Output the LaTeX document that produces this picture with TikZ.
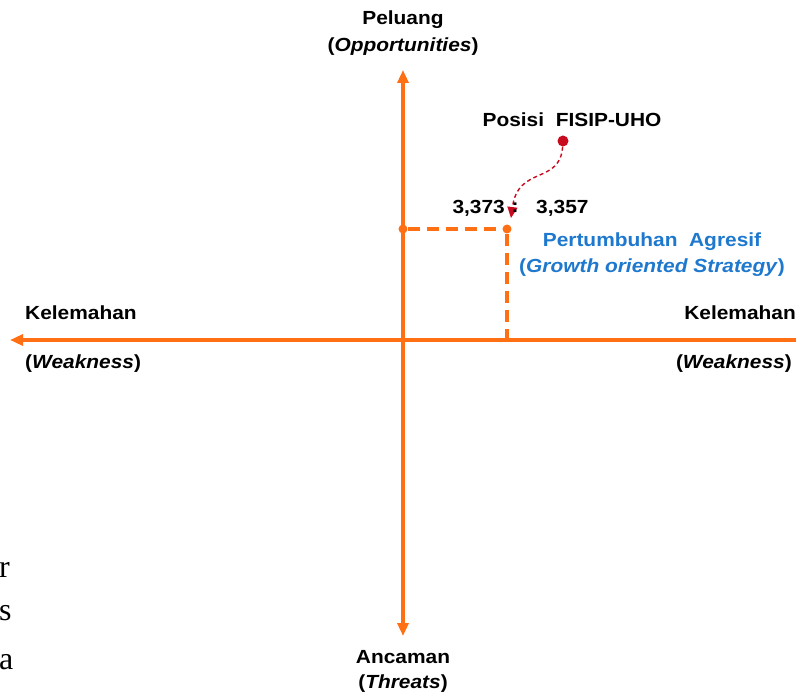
\documentclass[tikz,border=0pt]{standalone}
\usepackage{fontspec}
\setmainfont{Liberation Sans}[FakeStretch=1.1]
\newfontfamily\serifside{Liberation Serif}
\usetikzlibrary{arrows.meta}
\definecolor{axisorange}{RGB}{255,112,20}
\definecolor{txtblue}{RGB}{30,120,205}
\definecolor{dotred}{RGB}{200,10,30}
\begin{document}
\begin{tikzpicture}[x=1pt,y=-1pt,
  axis/.style={draw=axisorange,line width=3.8pt,-{Triangle[length=13pt,width=11pt]}},
  dashline/.style={draw=axisorange,line width=3.2pt,dash pattern=on 12pt off 7pt},
  lbl/.style={font=\fontsize{19}{22}\selectfont\bfseries,inner sep=0pt},
  blbl/.style={lbl,text=txtblue},
  odot/.style={circle,fill=axisorange,inner sep=0pt,minimum size=9pt},
  side/.style={font=\serifside\fontsize{32}{34}\selectfont,inner sep=0pt,anchor=base west}]
\useasboundingbox (0,0) rectangle (796,695);
\coordinate (O) at (403,340);
\coordinate (L) at (10,340);
\coordinate (R) at (796,340);
\coordinate (T) at (403,70);
\coordinate (B) at (403,636);
\draw[axis] (O) -- (L);
\draw[draw=axisorange,line width=3.8pt] (O) -- (R);
\draw[axis] (O) -- (T);
\draw[axis] (O) -- (B);
\node[odot] (py) at (403,229) {};
\node[odot] (pp) at (507,229) {};
\coordinate (px) at (507,340);
\draw[dashline] (py) -- (pp);
\draw[dashline] (pp) -- (px);
\node[circle,fill=dotred,inner sep=0pt,minimum size=11pt] (rd) at (563,141) {};
\coordinate (tip) at (511,218);
\draw[dotred,line width=1.4pt,dash pattern=on 4pt off 3pt,-{Triangle[length=11pt,width=10pt]}]
  (rd) .. controls (560,185) and (518,165) .. (tip);
\node[lbl] (pel) at (403,20) {Peluang};
\node[lbl] (opp) at (403,47) {(\textit{Opportunities})};
\node[lbl] (pos) at (572,120) {Posisi\ \ FISIP-UHO};
\node[lbl,anchor=east] (v1) at (505,208) {3,373};
\node[lbl] (col) at (515,208) {:};
\node[lbl,anchor=west] (v2) at (536,208) {3,357};
\node[blbl] (pa) at (652,242) {Pertumbuhan\ \ Agresif};
\node[blbl] (gos) at (652,268) {(\textit{Growth oriented Strategy})};
\node[lbl,anchor=west] (kl) at (25,313) {Kelemahan};
\node[lbl,anchor=west] (wl) at (25,364) {(\textit{Weakness})};
\node[lbl,anchor=east] (kr) at (796,313) {Kelemahan};
\node[lbl,anchor=east] (wr) at (792,364) {(\textit{Weakness})};
\node[lbl] (anc) at (403,657) {Ancaman};
\node[lbl] (thr) at (403,684) {(\textit{Threats})};
\node[side] (s1) at (-1,577) {r};
\node[side] (s2) at (-1,620) {s};
\node[side] (s3) at (-1,669) {a};
\end{tikzpicture}
\end{document}
